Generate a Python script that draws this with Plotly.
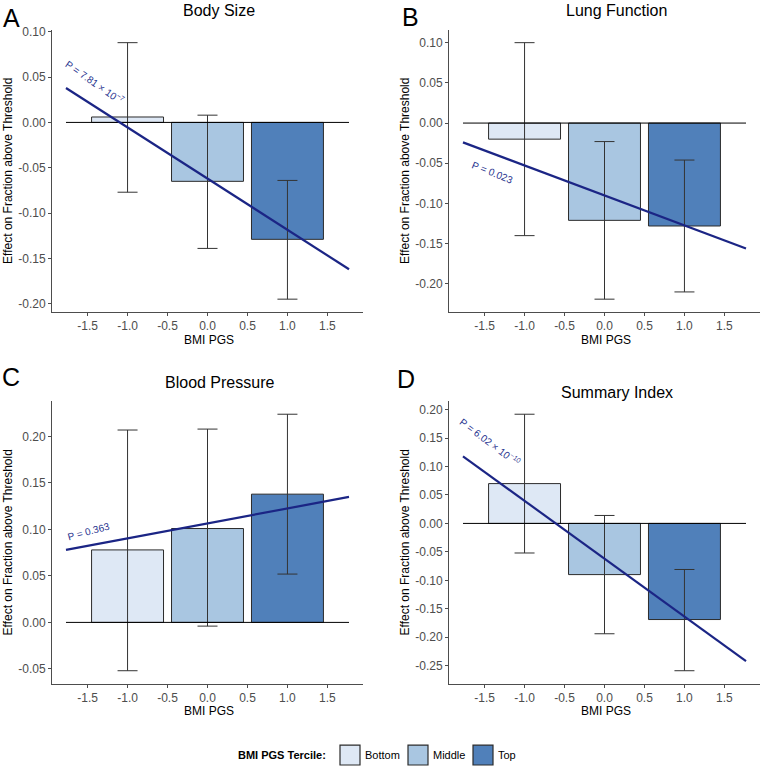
import plotly.graph_objects as go

# ---------------- data ----------------
terciles = ["Bottom", "Middle", "Top"]
tercile_x = [-1, 0, 1]
legend_title = "BMI PGS Tercile:"

panel_letters = ["A", "B", "C", "D"]
panel_titles = ["Body Size", "Lung Function", "Blood Pressure", "Summary Index"]

body_est = [0.006, -0.065, -0.129]
body_lo = [-0.077, -0.139, -0.195]
body_hi = [0.088, 0.008, -0.064]

lung_est = [-0.020, -0.121, -0.128]
lung_lo = [-0.140, -0.219, -0.210]
lung_hi = [0.100, -0.023, -0.046]

bp_est = [0.078, 0.101, 0.138]
bp_lo = [-0.052, -0.004, 0.052]
bp_hi = [0.207, 0.208, 0.224]

summ_est = [0.070, -0.090, -0.169]
summ_lo = [-0.052, -0.194, -0.259]
summ_hi = [0.192, 0.014, -0.081]

fit_x = [-1.77, 1.77]
body_fit = [0.038, -0.162]
lung_fit = [-0.024, -0.156]
bp_fit = [0.078, 0.135]
summ_fit = [0.118, -0.242]

p_labels = ["P = 7.81 × 10<sup>−7</sup>", "P = 0.023", "P = 0.363", "P = 6.02 × 10<sup>−10</sup>"]
p_pos_x = [-1.41, -1.40, -1.49, -1.43]
p_pos_y = [0.045, -0.061, 0.098, 0.143]
p_angle = [35, 22, -15, 37]

x_tickvals = [-1.5, -1.0, -0.5, 0.0, 0.5, 1.0, 1.5]
y_tickvals = [
    [0.10, 0.05, 0.00, -0.05, -0.10, -0.15, -0.20],
    [0.10, 0.05, 0.00, -0.05, -0.10, -0.15, -0.20],
    [0.20, 0.15, 0.10, 0.05, 0.00, -0.05],
    [0.20, 0.15, 0.10, 0.05, 0.00, -0.05, -0.10, -0.15, -0.20, -0.25],
]

panels = [
    (body_est, body_lo, body_hi, body_fit),
    (lung_est, lung_lo, lung_hi, lung_fit),
    (bp_est, bp_lo, bp_hi, bp_fit),
    (summ_est, summ_lo, summ_hi, summ_fit),
]

# ---------------- style ----------------
W, H = 762, 767
bar_colors = ["#dee8f5", "#a9c6e1", "#5080ba"]
edge = "#2b2b2b"
fit_color = "#1b2585"
axis_color = "#4d4d4d"
FONT = "Liberation Sans, Arial, sans-serif"

# panel geometry in pixels (left, right, top, bottom)
geo = [
    (52, 363, 25, 309),
    (449, 760, 25, 309),
    (52, 363, 399, 683),
    (449, 760, 399, 683),
]
title_pos = [(219, 6), (616, 6), (219, 380), (617, 390)]
letter_pos = [(11, 13), (410, 12), (11, 374), (406, 376)]

# legend layout (pixels)
leg_y = 755
leg_title_right = 328
leg_box_left = [340, 408, 473]
leg_box_size = 20


def px(x):
    return x / W


def py(y):
    return 1 - y / H


fig = go.Figure()
layout = dict(
    width=W, height=H,
    margin=dict(l=0, r=0, t=0, b=0),
    paper_bgcolor="white", plot_bgcolor="white",
    barmode="overlay",
    font=dict(family=FONT, size=11, color="black"),
    showlegend=False,
)
annotations = []
shapes = []

for i, (est, lo, hi, fit) in enumerate(panels):
    n = "" if i == 0 else str(i + 1)
    xa, ya = "x" + n, "y" + n
    for j in range(3):
        fig.add_trace(go.Bar(
            x=[tercile_x[j]], y=[est[j]], width=0.9,
            name=terciles[j], legendgroup=terciles[j],
            marker=dict(color=bar_colors[j], line=dict(color=edge, width=1)),
            error_y=dict(type="data", symmetric=False,
                         array=[hi[j] - est[j]], arrayminus=[est[j] - lo[j]],
                         color="#333333", thickness=1, width=10),
            xaxis=xa, yaxis=ya, hoverinfo="skip",
        ))
    fig.add_trace(go.Scatter(
        x=fit_x, y=[0, 0], mode="lines", line=dict(color="black", width=1),
        xaxis=xa, yaxis=ya, hoverinfo="skip",
    ))
    fig.add_trace(go.Scatter(
        x=fit_x, y=fit, mode="lines", line=dict(color=fit_color, width=2.2),
        xaxis=xa, yaxis=ya, hoverinfo="skip",
    ))

    ymin = min(min(lo), min(fit), 0)
    ymax = max(max(hi), max(fit), 0)
    pad = (ymax - ymin) * 0.05
    l, r, t, b = geo[i]
    axis_common = dict(
        showgrid=False, zeroline=False, showline=True, linecolor=axis_color,
        linewidth=1, ticks="outside", ticklen=3, tickcolor=axis_color,
        tickfont=dict(family=FONT, size=12, color=axis_color),
    )
    layout["xaxis" + n] = dict(
        domain=[px(l), px(r)], anchor=ya, range=[-1.945, 1.945],
        tickvals=x_tickvals, ticktext=[f"{v:.1f}" for v in x_tickvals],
        **axis_common,
    )
    layout["yaxis" + n] = dict(
        domain=[py(b), py(t)], anchor=xa, range=[ymin - pad, ymax + pad],
        tickvals=y_tickvals[i], ticktext=[f"{v:.2f}" for v in y_tickvals[i]],
        **axis_common,
    )

    # titles, letters, axis titles
    tx, ty = title_pos[i]
    annotations.append(dict(text=panel_titles[i], x=px(tx), y=py(ty), xref="paper", yref="paper",
                            showarrow=False, xanchor="center", yanchor="middle",
                            font=dict(family=FONT, size=16, color="black")))
    lx, ly = letter_pos[i]
    annotations.append(dict(text=panel_letters[i], x=px(lx), y=py(ly), xref="paper", yref="paper",
                            showarrow=False, xanchor="center", yanchor="middle",
                            font=dict(family=FONT, size=25, color="black")))
    annotations.append(dict(text="Effect on Fraction above Threshold", x=px(l - 44), y=py((t + b) / 2),
                            xref="paper", yref="paper", showarrow=False, textangle=-90,
                            xanchor="center", yanchor="middle",
                            font=dict(family=FONT, size=12, color="black")))
    annotations.append(dict(text="BMI PGS", x=px((l + r) / 2 + 1), y=py(b + 28),
                            xref="paper", yref="paper", showarrow=False,
                            xanchor="center", yanchor="middle",
                            font=dict(family=FONT, size=12, color="black")))
    annotations.append(dict(text=p_labels[i], x=p_pos_x[i], y=p_pos_y[i], xref=xa, yref=ya,
                            showarrow=False, textangle=p_angle[i],
                            xanchor="center", yanchor="middle",
                            font=dict(family=FONT, size=10, color="#2a3590")))

# legend (drawn as keys + labels)
annotations.append(dict(text=f"<b>{legend_title}</b>", x=px(leg_title_right), y=py(leg_y),
                        xref="paper", yref="paper", showarrow=False,
                        xanchor="right", yanchor="middle",
                        font=dict(family=FONT, size=11, color="black")))
for j, name in enumerate(terciles):
    x0 = leg_box_left[j]
    shapes.append(dict(type="rect", xref="paper", yref="paper",
                       x0=px(x0), x1=px(x0 + leg_box_size),
                       y0=py(leg_y + leg_box_size / 2), y1=py(leg_y - leg_box_size / 2),
                       fillcolor=bar_colors[j], line=dict(color=edge, width=1.2)))
    annotations.append(dict(text=name, x=px(x0 + leg_box_size + 3), y=py(leg_y),
                            xref="paper", yref="paper", showarrow=False,
                            xanchor="left", yanchor="middle",
                            font=dict(family=FONT, size=11, color="black")))

layout["annotations"] = annotations
layout["shapes"] = shapes
fig.update_layout(**layout)

fig.write_html("out.html",
               config={"displayModeBar": False},
               post_script="document.body.style.margin='0px';document.body.style.overflow='hidden';")
